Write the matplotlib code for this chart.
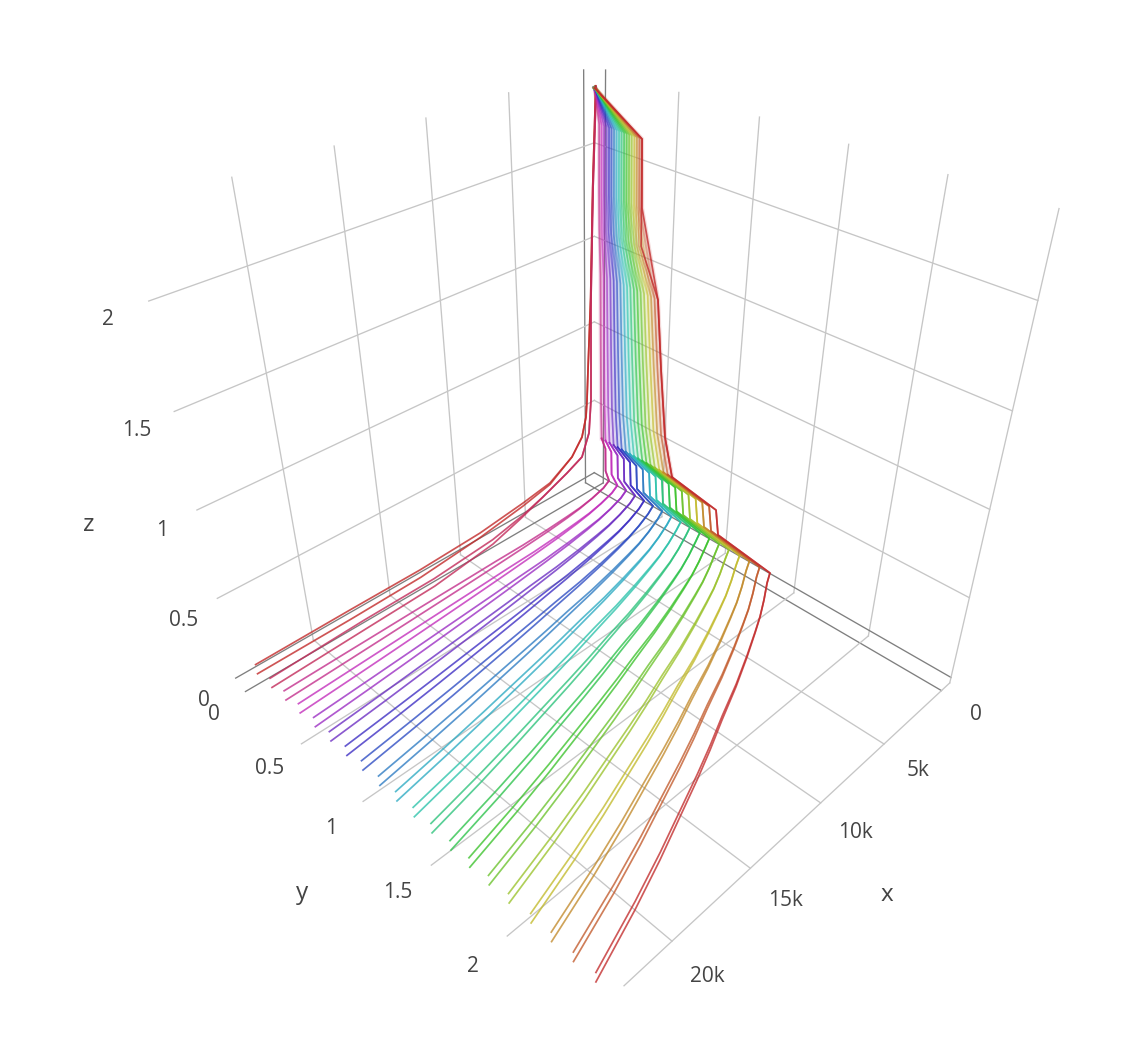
import colorsys
import numpy as np
import matplotlib
matplotlib.use('Agg')
import matplotlib.pyplot as plt

# y where each pair of lines starts at the front of the box
y_front = [-0.02, 0.108, 0.233, 0.358, 0.488, 0.619, 0.749, 0.877, 1.008, 1.137,
           1.265, 1.392, 1.524, 1.652, 1.78, 1.908, 2.045, 2.169, 2.298, 2.426]

# outermost line, front end to apex
x_path = [23634, 20200, 17646, 15329, 13206, 11410, 9551, 7377, 5356, 3728, 2647, 1578, 566, 70,
          0, 0, 0, 0, 0, 0, 0, 0, 0]
y_path = [2.426, 2.307, 2.21, 2.115, 2.028, 1.95, 1.864, 1.768, 1.671, 1.589, 1.533, 1.471, 1.408, 1.385,
          0.998, 0.971, 0.633, 0.567, 0.519, 0.479, 0.347, 0.336, 0.0]
z_path = [0, 0, 0, 0, 0, 0, 0, 0.002, 0.005, 0.012, 0.02, 0.035, 0.055, 0.082,
          0.129, 0.281, 0.337, 0.567, 0.959, 1.347, 1.797, 2.137, 2.306]
# second line of each pair sits a little above the first, and kinks lower near the top
z_gap = [0.06, 0.055, 0.05, 0.045, 0.04, 0.035, 0.03, 0.02, 0.015, 0.01, 0.005, 0, 0, 0,
         0, 0, 0, 0, 0, 0, -0.2, 0, 0]
upper_start = 16   # station where the tall part begins

# first pair bends up without the steps
x_first = [23657, 17931, 13278, 8959, 5660, 3504, 1690, 853, 515, 427, 338, 115, -47, -264]
z_first = [0.008, 0.012, 0.022, 0.059, 0.106, 0.149, 0.252, 0.349, 0.468, 0.576, 0.765, 1.198, 1.803, 2.306]
z_first_gap = [0.06, 0.06, 0.05, 0.03, 0.02, 0.01, 0, 0, 0, 0, 0, 0, 0, 0]

# second pair
x_second = [23640, 17900, 13200, 8900, 6600, 4883, 2950, 1722, 1141, 974, 964, 808, -100]
y_second = [0.108, 0.1, 0.095, 0.085, 0.075, 0.07, 0.07, 0.07, 0.07, 0.07, 0.07, 0.07, 0.0]
z_second = [0, 0.012, 0.022, 0.065, 0.12, 0.173, 0.242, 0.294, 0.428, 0.636, 1.242, 1.837, 2.306]
z_second_gap = [0.06, 0.06, 0.05, 0.03, 0.01, 0, 0, 0, 0, 0, 0, 0, 0]

x_ticks = [0, 5000, 10000, 15000, 20000]
y_ticks = [0, 0.5, 1, 1.5, 2]
z_ticks = [0, 0.5, 1, 1.5, 2]
x_labels = ['0', '5k', '10k', '15k', '20k']
y_labels = ['0', '0.5', '1', '1.5', '2']
z_labels = ['0', '0.5', '1', '1.5', '2']
x_label_px = [(976, 711), (918, 767), (855, 829), (785, 897), (707, 973)]
y_label_px = [(214, 712), (270, 765), (331, 825), (398, 890), (473, 964)]
z_label_px = [(204, 697), (184, 617), (162, 527), (137, 428), (108, 317)]

x_lim = (-761.31, 24562)
y_lim = (-0.080196, 2.5)
z_lim = (-0.036208, 2.3746)
box = np.array([4.6271, 4.6081, 4.6128])

W, H = 1142, 1038
fig = plt.figure(figsize=(W / 100, H / 100), dpi=100)
scale, cx, cy = 1236.7, 593.46, 477.58
side = 0.185 * scale
ax = fig.add_axes([(cx - 0.095 * scale) / W, (H - cy - 0.095 * scale) / H, side / W, side / H],
                  projection='3d')
ax.set_xlim(*x_lim)
ax.set_ylim(*y_lim)
ax.set_zlim(*z_lim)
ax.set_box_aspect(box, zoom=np.linalg.norm(box) / (1.8294640721620434 * 25 / 24))
ax.view_init(elev=35.22, azim=45.042, roll=0)
ax.set_proj_type('persp')
ax.set_axis_off()
ax.computed_zorder = False


def grid(xs, ys, zs, tick):
    color = '#7f7f7f' if tick == 0 else '#c6c6c6'
    ax.plot(xs, ys, zs, color=color, lw=0.95, zorder=1, clip_on=False)


def line(xs, ys, zs, color, alpha, order, lw=1.25):
    ax.plot(xs, ys, zs, color=color, lw=lw, alpha=alpha, zorder=order, clip_on=False)


for v in x_ticks:
    grid([v, v], [y_lim[0], y_lim[0]], z_lim, v)        # left wall
    grid([v, v], y_lim, [z_lim[0], z_lim[0]], v)        # floor
for v in y_ticks:
    grid([x_lim[0], x_lim[0]], [v, v], z_lim, v)        # right wall
    grid(x_lim, [v, v], [z_lim[0], z_lim[0]], v)        # floor
for v in z_ticks:
    grid(x_lim, [y_lim[0], y_lim[0]], [v, v], v)        # left wall
    grid([x_lim[0], x_lim[0]], y_lim, [v, v], v)        # right wall
grid([x_lim[0], x_lim[0]], [2.5, 2.5], z_lim, 1)
grid([x_lim[0], 22800], [2.5, 2.5], [z_lim[0], z_lim[0]], 1)

n = len(y_front)
for i, y0 in enumerate(y_front):
    hue = (1 - i / (n - 1)) % 1
    color = colorsys.hsv_to_rgb(hue, 0.78, 0.76)
    if i < 2:
        xs = np.array(x_first if i == 0 else x_second)
        ys = np.full(len(x_first), y0) if i == 0 else np.array(y_second)
        lower = np.array(z_first if i == 0 else z_second)
        upper = lower + np.array(z_first_gap if i == 0 else z_second_gap)
        line(xs, ys, lower, color, 0.8, 3 + i)
        line(xs, ys, upper, color, 0.8, 3 + i)
        continue
    xs = np.array(x_path)
    ys = np.array(y_path) * y0 / y_path[0]
    lower = np.array(z_path)
    upper = lower + np.array(z_gap)
    k = upper_start
    # lower part is strong, the tall part is pale with a wash around it
    tall_alpha = 0.8 if i == n - 1 else 0.42
    line(xs[k:], ys[k:], lower[k:], color, 0.17, 2, lw=3.0)
    line(xs[:k + 1], ys[:k + 1], lower[:k + 1], color, 0.78, 3 + i)
    line(xs[:k + 1], ys[:k + 1], upper[:k + 1], color, 0.78, 3 + i)
    line(xs[k:], ys[k:], lower[k:], color, tall_alpha, 3 + i)
    line(xs[k:], ys[k:], upper[k:], color, tall_alpha, 3 + i)

font = ['Open Sans', 'DejaVu Sans']
for labels, places in [(x_labels, x_label_px), (y_labels, y_label_px), (z_labels, z_label_px)]:
    for s, (px, py) in zip(labels, places):
        fig.text(px / W, 1 - (py + 3) / H, s, family=font, fontsize=15, color='#444444',
                 ha='center', va='center')
for s, (px, py) in [('x', (887, 893)), ('y', (302, 891)), ('z', (89, 523))]:
    fig.text(px / W, 1 - (py + 2) / H, s, family=font, fontsize=17.5, color='#444444',
             ha='center', va='center')

fig.savefig('out.png', dpi=100, facecolor='white')
